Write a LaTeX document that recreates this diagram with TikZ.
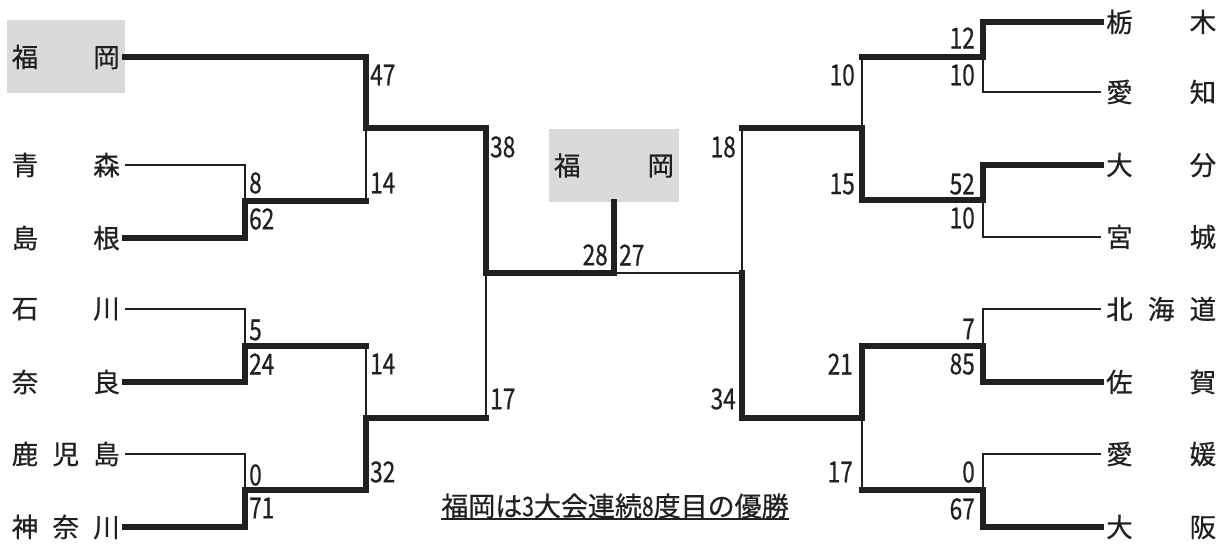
\documentclass[tikz,border=0pt]{standalone}
\usepackage{fontspec}
\usepackage{graphicx}
\setmainfont{Noto Sans CJK JP}[FakeBold=0.6]
\usetikzlibrary{positioning}

\definecolor{ink}{HTML}{231F20}
\definecolor{winbox}{HTML}{D9DADB}

% narrow digits for the scores
\newcommand{\scorenum}[1]{\scalebox{0.78}[1]{#1}}
% team name spread over a fixed width
\newcommand{\spreadname}[2][108pt]{\makebox[#1][s]{#2}}

\begin{document}
\begin{tikzpicture}[
    x=1pt, y=-1pt,
    team/.style={font=\fontsize{26.5}{26.5}\selectfont, text=ink, inner xsep=5pt, inner ysep=0pt, minimum height=73pt},
    champbox/.style={team, fill=winbox},
    score/.style={font=\fontsize{29}{29}\selectfont, text=ink, inner sep=0pt},
    caption/.style={font=\fontsize{27}{27}\selectfont, text=ink, inner sep=0pt},
    winner/.style={draw=ink, line width=5.5pt, line cap=rect},
    loser/.style={draw=ink, line width=2pt},
    underline/.style={draw=ink, line width=2pt}
]

\useasboundingbox (0,0) rectangle (1229,545);

% Left block teams
\node[champbox, anchor=east] (fukuoka) at (125,57) {\spreadname{福\hfill 岡}};
\node[team, anchor=east] (aomori) at (125,165) {\spreadname{青\hfill 森}};
\node[team, anchor=east] (shimane) at (125,238) {\spreadname{島\hfill 根}};
\node[team, anchor=east] (ishikawa) at (125,309) {\spreadname{石\hfill 川}};
\node[team, anchor=east] (nara) at (125,382) {\spreadname{奈\hfill 良}};
\node[team, anchor=east] (kagoshima) at (125,454) {\spreadname{鹿\hfill 児\hfill 島}};
\node[team, anchor=east] (kanagawa) at (125,527) {\spreadname{神\hfill 奈\hfill 川}};

% Right block teams
\node[team, anchor=west] (tochigi) at (1101,22) {\spreadname[110pt]{栃\hfill 木}};
\node[team, anchor=west] (aichi) at (1101,92) {\spreadname[110pt]{愛\hfill 知}};
\node[team, anchor=west] (oita) at (1101,165) {\spreadname[110pt]{大\hfill 分}};
\node[team, anchor=west] (miyagi) at (1101,237) {\spreadname[110pt]{宮\hfill 城}};
\node[team, anchor=west] (hokkaido) at (1101,309) {\spreadname[110pt]{北\hfill 海\hfill 道}};
\node[team, anchor=west] (saga) at (1101,382) {\spreadname[110pt]{佐\hfill 賀}};
\node[team, anchor=west] (ehime) at (1101,454) {\spreadname[110pt]{愛\hfill 媛}};
\node[team, anchor=west] (osaka) at (1101,527) {\spreadname[110pt]{大\hfill 阪}};

% Champion
\node[champbox, text width=120pt] (champ) at (614,165.5) {福\hfill 岡};

% Bracket junctions
\coordinate (l1a) at (245,201);
\coordinate (l1b) at (245,346);
\coordinate (l1c) at (245,490);
\coordinate (l2a) at (366,128);
\coordinate (l2b) at (366,418);
\coordinate (l3) at (486,273);
\coordinate (fin) at (614,273);
\coordinate (r3) at (742,273);
\coordinate (r2a) at (862,128);
\coordinate (r2b) at (862,418);
\coordinate (r1a) at (983,57);
\coordinate (r1b) at (983,200);
\coordinate (r1c) at (983,346);
\coordinate (r1d) at (983,490);

% Losing sides (thin)
\draw[loser] (aomori.east) -| (l1a);
\draw[loser] (l1a -| l2a) -- (l2a);
\draw[loser] (ishikawa.east) -| (l1b);
\draw[loser] (kagoshima.east) -| (l1c);
\draw[loser] (l1b -| l2b) -- (l2b);
\draw[loser] (l2b -| l3) -- (l3);
\draw[loser] (fin) -- (r3) -- (r3 |- r2a);
\draw[loser] (aichi.west) -| (r1a);
\draw[loser] (r1a -| r2a) -- (r2a);
\draw[loser] (miyagi.west) -| (r1b);
\draw[loser] (hokkaido.west) -| (r1c);
\draw[loser] (ehime.west) -| (r1d);
\draw[loser] (r1d -| r2b) -- (r2b);

% Winning sides (thick)
\draw[winner] (fukuoka.east) -| (l2a) -- (l2a -| l3) -- (l3) -- (fin) -- (champ.south);
\draw[winner] (shimane.east) -| (l1a) -- (l1a -| l2a);
\draw[winner] (nara.east) -| (l1b) -- (l1b -| l2b);
\draw[winner] (kanagawa.east) -| (l1c) -- (l1c -| l2b) -- (l2b) -- (l2b -| l3);
\draw[winner] (tochigi.west) -| (r1a) -- (r1a -| r2a);
\draw[winner] (oita.west) -| (r1b) -- (r1b -| r2a) -- (r2a) -- (r2a -| r3);
\draw[winner] (saga.west) -| (r1c) -- (r1c -| r2b) -- (r2b) -- (r2b -| r3) -- (r3);
\draw[winner] (osaka.west) -| (r1d) -- (r1d -| r2b);

% Scores, left block
\node[score, anchor=west] (sc-aomori) at (249,183) {\scorenum{8}};
\node[score, anchor=west] (sc-shimane) at (249,219) {\scorenum{62}};
\node[score, anchor=west] (sc-ishikawa) at (249,330) {\scorenum{5}};
\node[score, anchor=west] (sc-nara) at (249,364) {\scorenum{24}};
\node[score, anchor=west] (sc-kagoshima) at (249,475) {\scorenum{0}};
\node[score, anchor=west] (sc-kanagawa) at (249,508) {\scorenum{71}};
\node[score, anchor=west] (sc-fukuoka-2) at (370,75) {\scorenum{47}};
\node[score, anchor=west] (sc-shimane-2) at (370,183) {\scorenum{14}};
\node[score, anchor=west] (sc-nara-2) at (370,364) {\scorenum{14}};
\node[score, anchor=west] (sc-kanagawa-2) at (370,472) {\scorenum{32}};
\node[score, anchor=west] (sc-fukuoka-3) at (490,147) {\scorenum{38}};
\node[score, anchor=west] (sc-kanagawa-3) at (490,399) {\scorenum{17}};
\node[score, anchor=east] (sc-fukuoka-4) at (608,255) {\scorenum{28}};

% Scores, right block
\node[score, anchor=west] (sc-saga-4) at (619,255) {\scorenum{27}};
\node[score, anchor=east] (sc-oita-3) at (736,147) {\scorenum{18}};
\node[score, anchor=east] (sc-saga-3) at (736,399) {\scorenum{34}};
\node[score, anchor=east] (sc-tochigi-2) at (855,75) {\scorenum{10}};
\node[score, anchor=east] (sc-oita-2) at (855,184) {\scorenum{15}};
\node[score, anchor=east] (sc-saga-2) at (853,364) {\scorenum{21}};
\node[score, anchor=east] (sc-osaka-2) at (853,472) {\scorenum{17}};
\node[score, anchor=east] (sc-tochigi) at (975,38) {\scorenum{12}};
\node[score, anchor=east] (sc-aichi) at (975,75) {\scorenum{10}};
\node[score, anchor=east] (sc-oita) at (975,184) {\scorenum{52}};
\node[score, anchor=east] (sc-miyagi) at (975,218) {\scorenum{10}};
\node[score, anchor=east] (sc-hokkaido) at (975,329) {\scorenum{7}};
\node[score, anchor=east] (sc-saga) at (975,364) {\scorenum{85}};
\node[score, anchor=east] (sc-ehime) at (975,472) {\scorenum{0}};
\node[score, anchor=east] (sc-osaka) at (975,509) {\scorenum{67}};

% Caption
\node[caption] (note) at (615,506) {福岡は\scorenum{3}大会連続\scorenum{8}度目の優勝};
\draw[underline] (note.south west) -- (note.south east);

\end{tikzpicture}
\end{document}
